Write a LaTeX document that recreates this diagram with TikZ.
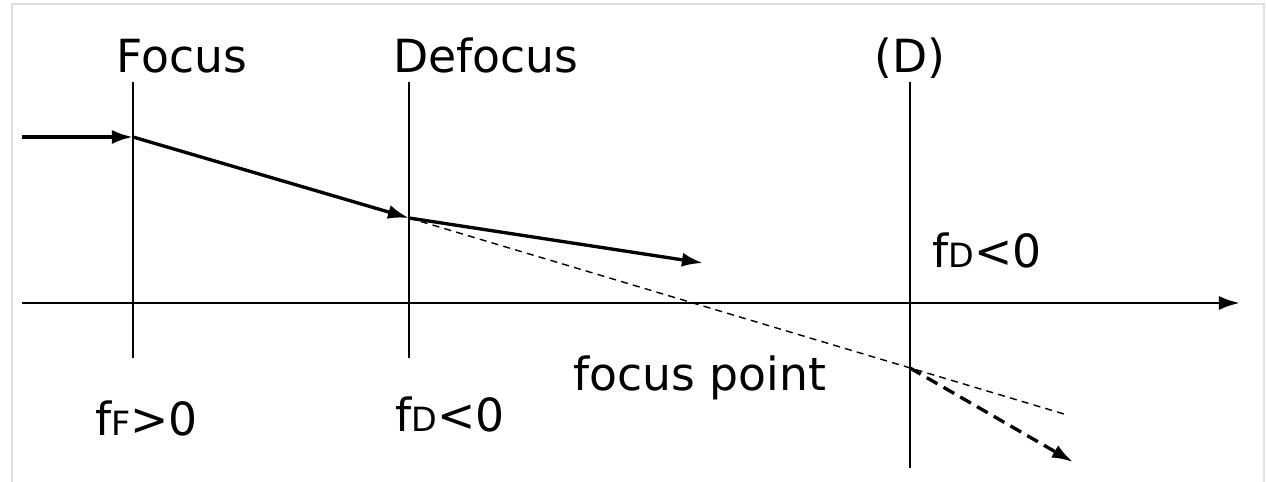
\documentclass[tikz,border=0pt]{standalone}
\usepackage{fontspec}
\setmainfont{DejaVu Sans}
\usetikzlibrary{arrows.meta}

\newcommand{\lowcap}[1]{{\fontsize{19}{19}\selectfont #1}}

\begin{document}
\begin{tikzpicture}[x=0.02cm,y=-0.02cm,
  lbl/.style={font=\fontsize{26}{26}\selectfont,inner sep=0pt,anchor=base},
  lens/.style={line width=1.2pt},
  ray/.style={line width=1.9pt,-{Latex[length=12pt,width=8pt]}},
  guide/.style={line width=0.8pt,dash pattern=on 4pt off 3pt}]

\useasboundingbox (0,0) rectangle (1266,482);
\draw[gray!25,line width=0.6pt] (12,482) -- (12,4) -- (1264,4) -- (1264,482);

% axis
\coordinate (axisL) at (22,303);
\coordinate (axisR) at (1240,303);
\draw[line width=1.7pt,-{Latex[length=12pt,width=8pt]}]
(axisL)
--
(axisR);

% lenses
\coordinate (focusTop) at (133,82);
\coordinate (focusBot) at (133,358);
\draw[lens] (focusTop) -- (focusBot);
\node[lbl] (focusLbl) at (182,73)
{Focus};

\coordinate (defocusTop) at (409,82);
\coordinate (defocusBot) at (409,358);
\draw[lens] (defocusTop) -- (defocusBot);
\node[lbl] (defocusLbl) at (486,73)
{Defocus};

\coordinate (dTop) at (910,82);
\coordinate (dBot) at (910,468);
\draw[lens] (dTop) -- (dBot);
\node[lbl] (dLbl) at (910,73)
{(D)};

% rays
\coordinate (rayIn) at (22,137);
\coordinate (hitF) at (133,137);
\coordinate (hitD) at (409,218);
\coordinate (rayOut) at (703,263);
\coordinate (guideEnd) at (1064,414);
\coordinate (hitDD) at (910,368);
\coordinate (rayEnd) at (1073,462);

\draw[ray] (rayIn) -- (hitF);
\draw[ray] (hitF) -- (hitD);
\draw[ray] (hitD) -- (rayOut);
\draw[guide] (hitD) -- (guideEnd);
\draw[ray,dash pattern=on 7pt off 4pt] (hitDD) -- (rayEnd);

% focal lengths
\node[lbl,anchor=base west] (fF) at (95,435)
{f\lowcap{F}>0};
\node[lbl,anchor=base west] (fD) at (395,431)
{f\lowcap{D}<0};
\node[lbl,anchor=base west] (fDD) at (932,268)
{f\lowcap{D}<0};
\node[lbl,anchor=base west] (fpLbl) at (573,390)
{focus point};

\end{tikzpicture}
\end{document}
